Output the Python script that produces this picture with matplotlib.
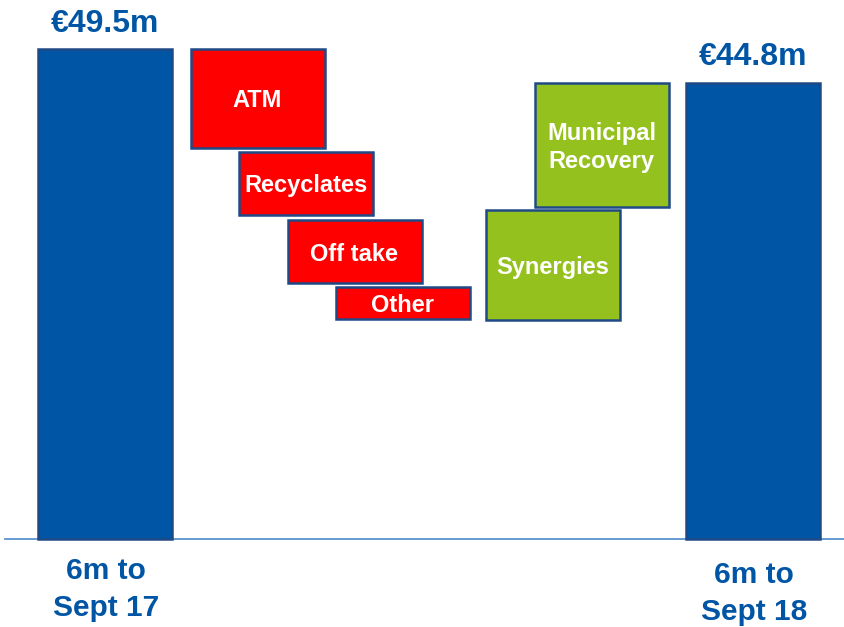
import matplotlib
matplotlib.use("Agg")
import matplotlib.pyplot as plt

plt.rcParams['font.family'] = ['Liberation Sans', 'DejaVu Sans']

# ---- data (in €m on the chart's own scale) ----
total_names = ["6m to\nSept 17", "6m to\nSept 18"]
total_values = [49.5, 46.1]            # drawn bar heights
total_labels = ["€49.5m", "€44.8m"]    # printed labels

step_names = ["ATM", "Recyclates", "Off take", "Other", "Synergies", "Municipal\nRecovery"]
step_tops = [49.5, 39.1, 32.2, 25.4, 33.2, 46.1]
step_bottoms = [39.5, 32.7, 25.8, 22.2, 22.1, 33.5]
step_kind = ["neg", "neg", "neg", "neg", "pos", "pos"]

# ---- layout / style ----
W, H = 844, 627
fig = plt.figure(figsize=(W / 100, H / 100), dpi=100)
ax = fig.add_axes([0, 0, 1, 1])
px_per_unit = 9.889
base_px = 88.5
ax.set_xlim(0, W)
ax.set_ylim(-base_px / px_per_unit, (H - base_px) / px_per_unit)
ax.axis("off")

blue = "#0055A4"
edge = "#1F4A85"
red = "#FF0000"
green = "#95C11F"
bar_w = 134

total_x = [105, 753]
step_x = [257.5, 306, 354.5, 402.5, 553, 601.5]

# baseline
ax.plot([5, W], [0, 0], color="#5B93CF", lw=1.3, zorder=1)

# totals
ax.bar(total_x, total_values, width=bar_w, color=blue, edgecolor=edge,
       linewidth=1.8, zorder=2)
for x, v, lab in zip(total_x, total_values, total_labels):
    ax.annotate(lab, (x, v), xytext=(0, 12.5), textcoords="offset points",
                ha="center", va="baseline", fontsize=23, fontweight="bold",
                color=blue)

# category labels under the totals
name_offsets = [-13.5, -16]
for x, name, off in zip(total_x, total_names, name_offsets):
    ax.annotate(name, (x + 1, 0), xytext=(0, off), textcoords="offset points",
                ha="center", va="top", fontsize=21.5, fontweight="bold",
                color=blue, linespacing=1.4)

# floating steps
heights = [t - b for t, b in zip(step_tops, step_bottoms)]
colors = [red if k == "neg" else green for k in step_kind]
ax.bar(step_x, heights, bottom=step_bottoms, width=bar_w, color=colors,
       edgecolor=edge, linewidth=1.8, zorder=3)
for x, t, b, name in zip(step_x, step_tops, step_bottoms, step_names):
    ax.annotate(name, (x, (t + b) / 2), xytext=(0, -1.8), textcoords="offset points",
                ha="center", va="center", fontsize=17, fontweight="bold",
                color="white", linespacing=1.3, zorder=4)

fig.savefig("out.png", dpi=100)
